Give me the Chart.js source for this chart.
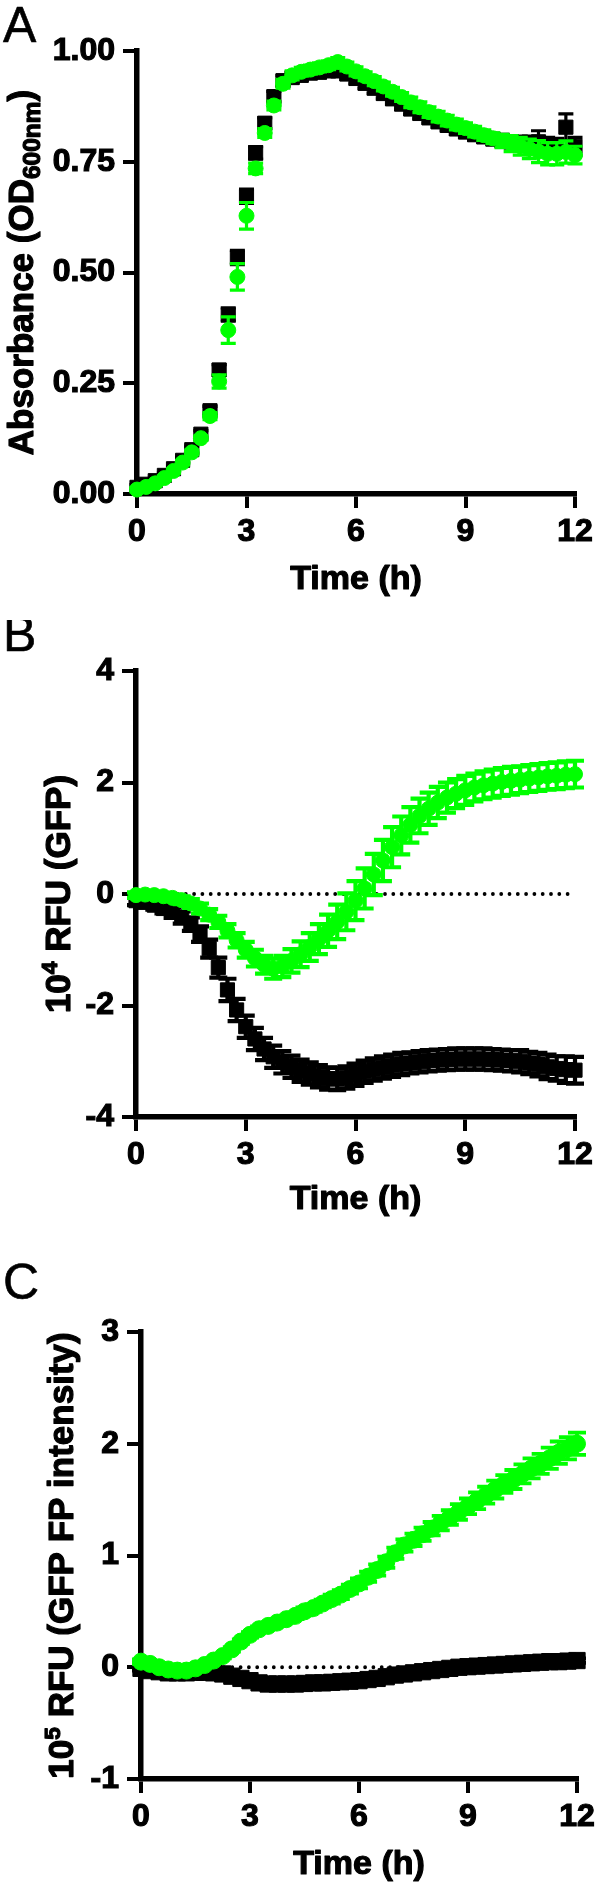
<!DOCTYPE html>
<html><head><meta charset="utf-8">
<script src="https://cdn.jsdelivr.net/npm/chart.js@4.4.1/dist/chart.umd.min.js"></script>
<style>
html,body{margin:0;padding:0;background:#fff;}
#wrap{position:relative;width:600px;height:1890px;background:#fff;}
canvas{position:absolute;left:0;}
</style></head><body>
<div id="wrap">
<canvas id="cA" width="600" height="620" style="top:0px"></canvas>
<canvas id="cB" width="600" height="640" style="top:620px"></canvas>
<canvas id="cC" width="600" height="630" style="top:1260px"></canvas>
</div>
<script>
// ---------- data ----------
const timeH = [0,0.25,0.5,0.75,1,1.25,1.5,1.75,2,2.25,2.5,2.75,3,3.25,3.5,3.75,4,4.25,4.5,4.75,5,5.25,5.5,5.75,6,6.25,6.5,6.75,7,7.25,7.5,7.75,8,8.25,8.5,8.75,9,9.25,9.5,9.75,10,10.25,10.5,10.75,11,11.25,11.5,11.75,12];
const xTicks = [0,3,6,9,12];

// Panel A: absorbance
const odBlack = [.015,.022,.030,.042,.057,.076,.100,.135,.188,.280,.405,.534,.672,.770,.837,.897,.933,.940,.945,.950,.952,.955,.955,.948,.938,.927,.916,.904,.892,.880,.869,.859,.849,.840,.832,.824,.817,.811,.806,.801,.798,.795,.793,.792,.795,.790,.788,.828,.785];
const odBlackErr = [.006,.006,.006,.006,.006,.006,.008,.008,.01,.012,.015,.016,.016,.014,.012,.012,.012,.012,.012,.012,.012,.012,.012,.012,.012,.012,.012,.012,.012,.012,.012,.012,.012,.012,.012,.012,.012,.012,.012,.012,.014,.014,.015,.016,.025,.015,.015,.03,.02];
const odGreen = [.010,.016,.024,.036,.052,.071,.094,.126,.176,.254,.370,.490,.628,.735,.815,.877,.926,.945,.953,.958,.963,.968,.975,.965,.954,.943,.932,.920,.908,.896,.884,.873,.862,.852,.843,.834,.826,.818,.810,.803,.797,.791,.785,.779,.773,.768,.768,.772,.765];
const odGreenErr = [.005,.005,.005,.005,.005,.005,.005,.005,.008,.015,.03,.03,.03,.012,.01,.01,.01,.01,.01,.01,.01,.01,.01,.01,.01,.01,.01,.01,.01,.01,.012,.012,.012,.012,.012,.012,.012,.012,.012,.012,.015,.018,.02,.022,.025,.025,.025,.025,.02];
const odTicks = [0,0.25,0.5,0.75,1];

// Panel B: 10^4 RFU (GFP)
const rfuBlack = [-0.12,-0.15,-0.2,-0.26,-0.33,-0.42,-0.54,-0.72,-0.98,-1.32,-1.72,-2.08,-2.38,-2.6,-2.78,-2.92,-3.02,-3.1,-3.17,-3.22,-3.27,-3.31,-3.32,-3.29,-3.24,-3.19,-3.15,-3.11,-3.08,-3.05,-3.03,-3.01,-2.99,-2.98,-2.97,-2.96,-2.96,-2.96,-2.96,-2.97,-2.98,-2.99,-3.0,-3.03,-3.06,-3.1,-3.13,-3.15,-3.16];
const rfuBlackErr = [.08,.08,.08,.09,.1,.11,.12,.14,.16,.18,.2,.2,.2,.2,.2,.2,.2,.2,.2,.2,.2,.2,.2,.2,.2,.2,.2,.2,.2,.2,.19,.19,.19,.19,.19,.19,.19,.19,.19,.19,.19,.19,.2,.2,.21,.22,.22,.24,.24];
const rfuGreen = [-0.02,-0.01,-0.02,-0.04,-0.07,-0.11,-0.17,-0.26,-0.37,-0.5,-0.66,-0.83,-1.0,-1.15,-1.27,-1.34,-1.3,-1.2,-1.08,-0.95,-0.81,-0.66,-0.5,-0.32,-0.12,0.1,0.35,0.6,0.84,1.05,1.24,1.4,1.53,1.64,1.73,1.8,1.86,1.91,1.95,1.98,2.01,2.03,2.05,2.07,2.09,2.11,2.12,2.14,2.15];
const rfuGreenErr = [.05,.05,.05,.06,.06,.07,.08,.09,.1,.11,.12,.13,.14,.15,.16,.18,.19,.21,.23,.25,.27,.29,.31,.33,.35,.36,.37,.37,.36,.34,.32,.31,.29,.28,.27,.26,.26,.25,.25,.25,.25,.25,.24,.24,.24,.24,.24,.24,.24];
const rfuTicks = [-4,-2,0,2,4];

// Panel C: 10^5 RFU (GFP FP intensity)
const fpGreen = [0.05,0.03,0.0,-0.02,-0.03,-0.03,-0.01,0.02,0.06,0.1,0.16,0.23,0.29,0.34,0.37,0.4,0.43,0.46,0.5,0.53,0.57,0.61,0.65,0.7,0.75,0.81,0.87,0.94,1.02,1.09,1.14,1.19,1.24,1.29,1.34,1.39,1.44,1.49,1.54,1.59,1.64,1.68,1.73,1.78,1.82,1.87,1.92,1.96,2.0];
const fpGreenErr = [.02,.02,.02,.02,.02,.02,.02,.02,.02,.02,.02,.02,.025,.025,.03,.03,.03,.03,.035,.035,.035,.04,.04,.04,.045,.045,.05,.05,.05,.055,.055,.06,.06,.065,.065,.07,.07,.075,.075,.08,.08,.085,.085,.09,.09,.095,.1,.1,.1];
const fpBlack = [-0.01,-0.03,-0.04,-0.05,-0.05,-0.05,-0.045,-0.045,-0.05,-0.06,-0.08,-0.1,-0.12,-0.14,-0.15,-0.15,-0.15,-0.15,-0.145,-0.14,-0.14,-0.135,-0.13,-0.125,-0.12,-0.11,-0.1,-0.085,-0.07,-0.06,-0.05,-0.04,-0.03,-0.02,-0.01,0.0,0.005,0.01,0.015,0.02,0.025,0.03,0.035,0.04,0.045,0.05,0.05,0.055,0.06];
const fpBlackErr = [.02,.02,.02,.02,.02,.02,.02,.02,.02,.02,.02,.02,.02,.02,.02,.02,.02,.02,.02,.02,.02,.02,.02,.02,.02,.02,.02,.02,.02,.02,.02,.02,.02,.02,.02,.02,.02,.02,.02,.02,.02,.02,.02,.02,.02,.02,.02,.02,.02];
const fpTicks = [-1,0,1,2,3];

const GREEN = '#00ff00';
const BLACK = '#000000';
const FONT = "'Liberation Sans', Arial, Helvetica, sans-serif";

// ---------- plugins ----------
const errorBars = {
  id: 'errorBars',
  beforeDatasetDraw(chart, args) {
    const ds = chart.data.datasets[args.index];
    if (!ds.errors) return;
    const xs = chart.scales.x, ys = chart.scales.y, ctx = chart.ctx;
    const cap = ds.capHalf || 7;
    ctx.save();
    ctx.strokeStyle = ds.backgroundColor;
    ctx.lineWidth = ds.errWidth || 3;
    ctx.lineCap = 'butt';
    ds.data.forEach((p, i) => {
      const e = ds.errors[i];
      const x = xs.getPixelForValue(p.x);
      const y1 = ys.getPixelForValue(p.y + e);
      const y2 = ys.getPixelForValue(p.y - e);
      ctx.beginPath();
      ctx.moveTo(x, y1); ctx.lineTo(x, y2);
      ctx.moveTo(x - cap, y1); ctx.lineTo(x + cap, y1);
      ctx.moveTo(x - cap, y2); ctx.lineTo(x + cap, y2);
      ctx.stroke();
    });
    ctx.restore();
  }
};

function drawRich(ctx, segs, size, stroke) {
  let total = 0;
  const parts = segs.map(s => {
    const fs = size * (s.scale || 1);
    ctx.font = 'bold ' + fs + 'px ' + FONT;
    const w = ctx.measureText(s.t).width;
    total += w;
    return {t: s.t, fs, w, dy: (s.dy || 0) * size};
  });
  let x = -total / 2;
  parts.forEach(p => {
    ctx.font = 'bold ' + p.fs + 'px ' + FONT;
    ctx.fillText(p.t, x, p.dy);
    if (stroke) ctx.strokeText(p.t, x, p.dy);
    x += p.w;
  });
}

const panelText = {
  id: 'panelText',
  afterDraw(chart, args, o) {
    const ctx = chart.ctx, ca = chart.chartArea;
    ctx.save();
    ctx.fillStyle = '#000';
    ctx.strokeStyle = '#000';
    ctx.lineWidth = 1.2;
    ctx.lineJoin = 'round';
    ctx.textBaseline = 'alphabetic';
    ctx.textAlign = 'left';
    // panel letter
    ctx.font = '50px ' + FONT;
    ctx.fillText(o.letter, o.letterX, o.letterY);
    ctx.lineWidth = 0.6;
    ctx.strokeText(o.letter, o.letterX, o.letterY);
    ctx.lineWidth = 1.2;
    // x title
    ctx.save();
    ctx.translate((ca.left + ca.right) / 2, ca.bottom + o.xTitleDy);
    drawRich(ctx, [{t: 'Time (h)'}], o.titleSize, true);
    ctx.restore();
    // y title (rotated)
    ctx.save();
    ctx.translate(o.yTitleX, (ca.top + ca.bottom) / 2);
    ctx.rotate(-Math.PI / 2);
    drawRich(ctx, o.ySegs, o.yTitleSize, true);
    ctx.restore();
    ctx.restore();
  }
};

function pts(ys) { return timeH.map((t, i) => ({x: t, y: ys[i]})); }

function makeChart(id, cfg) {
  const H = cfg.H;
  const datasets = [
    {data: pts(cfg.green), errors: cfg.greenErr, backgroundColor: GREEN, borderColor: GREEN,
     pointStyle: 'circle', pointRadius: cfg.gR, pointBorderWidth: 1, order: 0, clip: false,
     capHalf: cfg.cap, errWidth: cfg.errW},
    {data: pts(cfg.black), errors: cfg.blackErr, backgroundColor: BLACK, borderColor: BLACK,
     pointStyle: 'rect', pointRadius: cfg.bR, pointBorderWidth: 1, order: 1, clip: false,
     capHalf: cfg.cap, errWidth: cfg.errW}
  ];
  if (cfg.zeroLine) {
    datasets.push({data: [{x: 0, y: 0}, {x: 12, y: 0}], showLine: true, borderColor: '#000',
      borderWidth: 3.8, borderDash: [0, 8.3], borderCapStyle: 'round', pointRadius: 0, order: 2, clip: false});
  }
  const tickFont = {family: FONT, weight: 'bold', size: 32};
  const tickOpts = {font: tickFont, color: '#000', autoSkip: false, textStrokeColor: '#000', textStrokeWidth: 1.2};
  return new Chart(document.getElementById(id), {
    type: 'scatter',
    data: {datasets},
    options: {
      responsive: false, animation: false, devicePixelRatio: 1,
      layout: {padding: {top: cfg.top, right: 600 - cfg.right, left: 0, bottom: 0}},
      plugins: {legend: {display: false}, tooltip: {enabled: false}, title: {display: false},
        panelText: cfg.text},
      scales: {
        x: {type: 'linear', min: 0, max: 12,
          afterBuildTicks: s => { s.ticks = xTicks.map(v => ({value: v})); },
          ticks: Object.assign({padding: 5, maxRotation: 0, callback: v => String(v)}, tickOpts),
          grid: {display: true, drawOnChartArea: false, drawTicks: true, tickLength: 14, lineWidth: 4, color: '#000'},
          border: {display: true, width: 5.5, color: '#000'},
          afterFit: s => { s.height = H - cfg.bottom; }
        },
        y: {type: 'linear', min: cfg.yMin, max: cfg.yMax,
          afterBuildTicks: s => { s.ticks = cfg.yTicks.map(v => ({value: v})); },
          ticks: Object.assign({padding: 8, callback: v => cfg.fmt(v)}, tickOpts),
          grid: {display: true, drawOnChartArea: false, drawTicks: true, tickLength: 14, lineWidth: 4, color: '#000'},
          border: {display: true, width: 5.5, color: '#000'},
          afterFit: s => { s.width = cfg.left; }
        }
      }
    },
    plugins: [errorBars, panelText]
  });
}

makeChart('cA', {
  H: 620, left: 137, right: 575, top: 51, bottom: 494,
  yMin: 0, yMax: 1, yTicks: odTicks, fmt: v => v.toFixed(2),
  green: odGreen, greenErr: odGreenErr, black: odBlack, blackErr: odBlackErr,
  gR: 7.5, bR: 10, cap: 7.5, errW: 3.2, zeroLine: false,
  text: {letter: 'A', letterX: 3, letterY: 42, xTitleDy: 95, titleSize: 34,
    yTitleX: 33, yTitleSize: 35,
    ySegs: [{t: 'Absorbance (OD'}, {t: '600nm', scale: 0.7, dy: 0.2}, {t: ')'}]}
});

makeChart('cB', {
  H: 640, left: 136, right: 575, top: 51, bottom: 497,
  yMin: -4, yMax: 4, yTicks: rfuTicks, fmt: v => String(v),
  green: rfuGreen, greenErr: rfuGreenErr, black: rfuBlack, blackErr: rfuBlackErr,
  gR: 7.5, bR: 10, cap: 9, errW: 4.2, zeroLine: true,
  text: {letter: 'B', letterX: 3, letterY: 31, xTitleDy: 92, titleSize: 34,
    yTitleX: 70, yTitleSize: 35,
    ySegs: [{t: '10'}, {t: '4', scale: 0.65, dy: -0.38}, {t: ' RFU (GFP)'}]}
});

makeChart('cC', {
  H: 630, left: 141, right: 577, top: 72, bottom: 519,
  yMin: -1, yMax: 3, yTicks: fpTicks, fmt: v => String(v),
  green: fpGreen, greenErr: fpGreenErr, black: fpBlack, blackErr: fpBlackErr,
  gR: 8.5, bR: 11.5, cap: 9, errW: 3.8, zeroLine: true,
  text: {letter: 'C', letterX: 3, letterY: 39, xTitleDy: 95, titleSize: 34,
    yTitleX: 73, yTitleSize: 35,
    ySegs: [{t: '10'}, {t: '5', scale: 0.65, dy: -0.38}, {t: ' RFU (GFP FP intensity)'}]}
});
</script>
</body></html>
